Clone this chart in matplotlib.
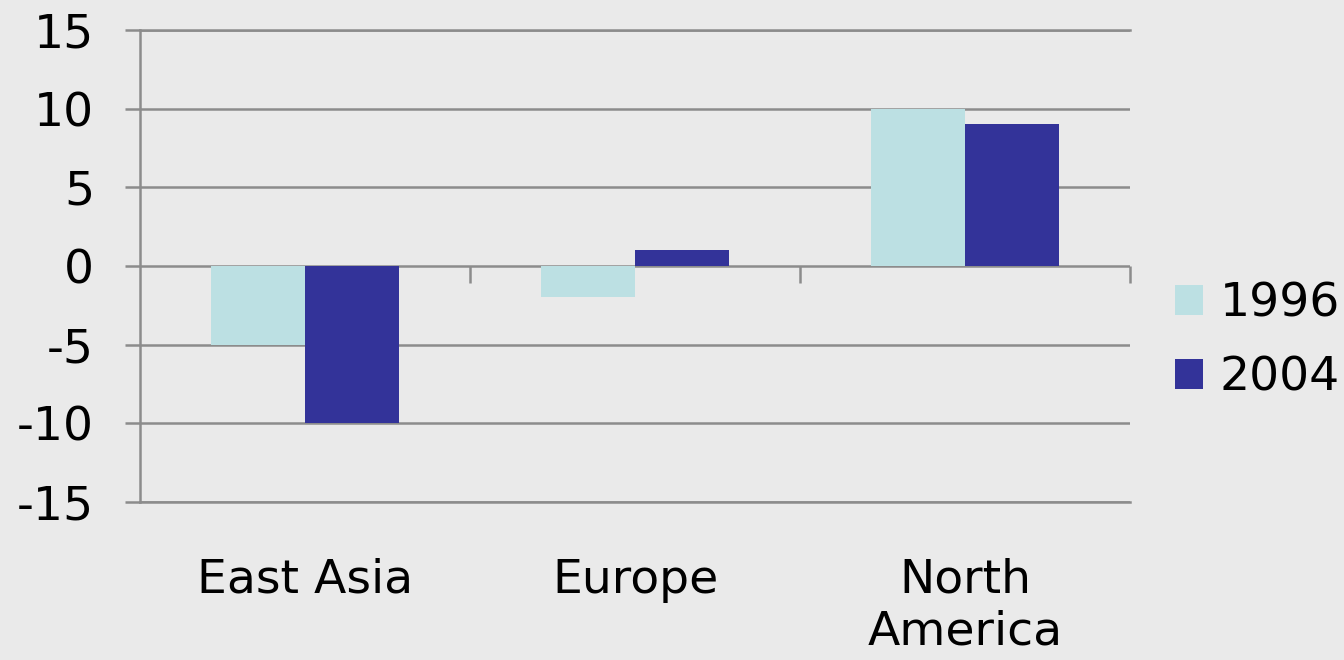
import numpy as np
import matplotlib
matplotlib.use("Agg")
import matplotlib.pyplot as plt
from matplotlib.patches import Patch

regions = ["East Asia", "Europe", "North\nAmerica"]
years = ["1996", "2004"]
vals_1996 = [-5, -2, 10]
vals_2004 = [-10, 1, 9]

colors = {"1996": "#BCE0E3", "2004": "#333399"}
grid_c = "#8C8C8C"
bg = "#EAEAEA"
fs = 34

plt.rcParams["axes.unicode_minus"] = False

fig = plt.figure(figsize=(13.44, 6.6), dpi=100, facecolor=bg)
ax = fig.add_axes([0.1042, 0.2394, 0.7366, 0.7151], facecolor=bg)

x = np.arange(len(regions))
w = 0.285
ax.bar(x - w / 2, vals_1996, w, color=colors["1996"], zorder=3)
ax.bar(x + w / 2, vals_2004, w, color=colors["2004"], zorder=3)

ax.set_xlim(-0.5, len(regions) - 0.5)
ax.set_ylim(-15, 15)
ax.set_yticks(np.arange(-15, 16, 5))
ax.yaxis.grid(True, color=grid_c, linewidth=1.8, zorder=1)
ax.set_axisbelow(True)
ax.tick_params(axis="y", length=11, width=1.8, color=grid_c,
               labelsize=fs, pad=22)

ax.set_xticks(x)
ax.set_xticklabels(regions, fontsize=fs, linespacing=1.2)
ax.tick_params(axis="x", length=0, pad=40)

ax.spines["right"].set_visible(False)
for s in ["left", "top", "bottom"]:
    ax.spines[s].set_color(grid_c)
    ax.spines[s].set_linewidth(1.8)

# zero line with category-boundary ticks
zax = ax.secondary_xaxis(0.5)
zax.set_xticks(x + 0.5)
zax.tick_params(axis="x", direction="out", length=12, width=1.8,
                color=grid_c, labelbottom=False, labeltop=False,
                bottom=True, top=False)
zax.spines["bottom"].set_color(grid_c)
zax.spines["bottom"].set_linewidth(1.8)
zax.spines["top"].set_visible(False)

handles = [Patch(facecolor=colors[y]) for y in years]
fig.legend(handles, years, loc="center left", bbox_to_anchor=(0.874, 0.483),
           frameon=False, fontsize=fs, handlelength=0.6, handleheight=0.6,
           handletextpad=0.35, labelspacing=0.62, borderaxespad=0,
           borderpad=0)

fig.savefig("out.png", dpi=100, facecolor=bg)
